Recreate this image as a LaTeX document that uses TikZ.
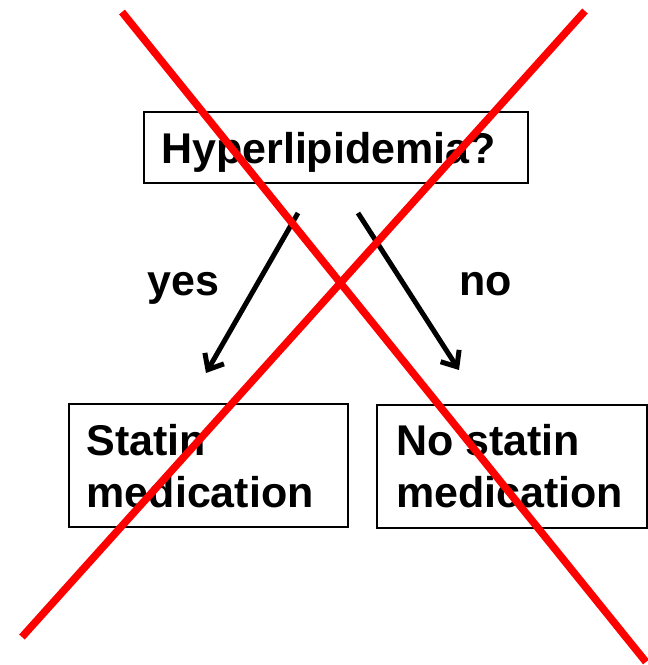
\documentclass[tikz,border=0pt]{standalone}
\usepackage{fontspec}
\setmainfont{Liberation Sans}
\usetikzlibrary{arrows.meta}
\tikzset{
  box/.style={draw=black,line width=1.6pt,inner sep=0pt},
  lbl/.style={font=\fontsize{43}{52}\bfseries\selectfont,inner sep=0pt,anchor=base west},
  conn/.style={draw=black,line width=5pt,-{Straight Barb[length=13pt,width=22pt]}},
  cross/.style={draw=red,line width=7.5pt}}
\begin{document}
\begin{tikzpicture}[x=1pt,y=-1pt]
\useasboundingbox (0,0) rectangle (648,665);
% boxes
\node[box,minimum width=384pt,minimum height=71pt] (q) at (336,147.5) {};
\node[box,minimum width=279pt,minimum height=123pt] (s) at (208.5,465.5) {};
\node[box,minimum width=270pt,minimum height=123pt] (n) at (512,466.5) {};
% texts
\node[lbl] (qt) at (161,163) {Hyperlipidemia?};
\node[lbl] (s1) at (86.5,455) {Statin};
\node[lbl] (s2) at (86.5,507) {medication};
\node[lbl] (n1) at (396,455) {No statin};
\node[lbl] (n2) at (396,507) {medication};
\node[lbl] (yes) at (147,295) {yes};
\node[lbl] (no) at (459.5,295) {no};
% connectors
\coordinate (ys) at (298,213);
\coordinate (ye) at (206,373);
\coordinate (ns) at (358,213);
\coordinate (ne) at (459,370);
\draw[conn] (ys) -- (ye);
\draw[conn] (ns) -- (ne);
% red cross
\coordinate (c1) at (122,12);
\coordinate (c2) at (646,662);
\coordinate (c3) at (585,11);
\coordinate (c4) at (22,637);
\draw[cross] (c1) -- (c2);
\draw[cross] (c3) -- (c4);
\end{tikzpicture}
\end{document}
